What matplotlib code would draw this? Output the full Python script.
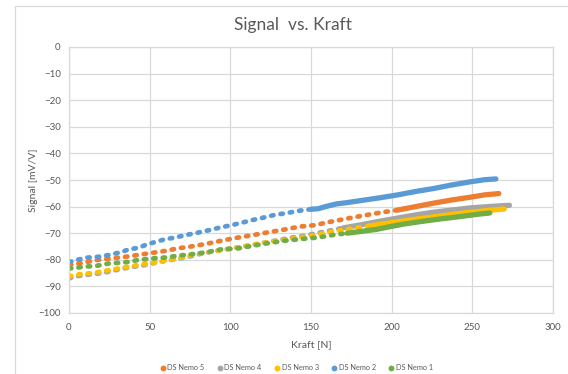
import matplotlib
matplotlib.use("Agg")
import matplotlib.pyplot as plt
from matplotlib.lines import Line2D
from matplotlib.patches import Rectangle
import numpy as np

plt.rcParams["font.family"] = ["Lato", "DejaVu Sans"]

TEXT = "#595959"
GRID = "#D9D9D9"

# readings per sensor: force [N] and signal [mV/V]
nemo5_x = [0, 9, 16.8, 24.6, 34.7, 42.5, 51.5, 60.4, 67.2, 74.6, 80.6, 88.4, 96.3, 105.2, 114.2,
           123, 132, 143.3, 152.2, 161.2, 172.4, 181.3, 192.5, 203.7, 214.9, 226, 237.3, 248.5, 257.5, 266.4]
nemo5_y = [-82, -81.1, -80.1, -79.6, -78.9, -78.2, -77.4, -76.6, -75.7, -75.1, -74.5, -73.6, -72.6, -71.6, -70.7,
           -69.7, -68.8, -67.5, -67, -65.8, -64.5, -63.5, -62.3, -61.3, -60, -58.7, -57.5, -56.5, -55.6, -55.1]

nemo4_x = [0, 4.5, 11, 17.9, 24.6, 33.6, 40.3, 47, 56, 65, 74, 82.8, 91.8, 100.7, 109.7,
           118.7, 127.6, 136.6, 147.8, 159, 170, 181.3, 192.5, 203.7, 215, 226, 237.3, 248.5, 259.7, 273]
nemo4_y = [-87, -86.2, -85.7, -85.2, -84.5, -83.3, -82.6, -82, -80.8, -79.9, -78.9, -77.6, -76.6, -75.7, -74.8,
           -73.8, -72.8, -71.8, -70.7, -69.3, -68, -66.8, -65.5, -64.3, -63.1, -62.1, -61.3, -60.5, -60, -59.5]

nemo3_x = [0, 6.7, 15.7, 24.6, 33.6, 42.5, 49, 58.2, 67.2, 76, 85, 94, 103, 112, 121,
           130, 141, 152, 163.4, 174.6, 185.8, 197, 208.2, 219.4, 230.6, 241.8, 253, 262, 269.8]
nemo3_y = [-86.2, -85.4, -84.9, -83.9, -82.9, -82, -81.4, -80.5, -79.5, -78.2, -77.2, -76.4, -75.5, -74.6, -73.6,
           -72.8, -71.8, -70.8, -69.4, -68.3, -67.3, -66.3, -65.3, -64.4, -63.5, -62.6, -61.9, -61.3, -60.9]

nemo2_x = [0, 2.2, 4.5, 10.7, 16, 19, 24.6, 32.5, 37, 41, 45.9, 48.8, 54.8, 59.3, 66, 71.6, 80.6, 87.3,
           94, 100.7, 107.5, 114, 118.7, 127.6, 134.3, 143.3, 150, 154.5, 159, 165.7, 172.4, 181.3,
           192.5, 203.7, 215, 226, 237, 248.5, 257.5, 264.6]
nemo2_y = [-80.8, -80.5, -80.1, -79.2, -79, -78.8, -78.2, -77.1, -76.1, -75.7, -74.8, -74.1, -73.1, -72.3,
           -71.6, -70.8, -69.7, -68.8, -67.8, -67, -66, -65, -64.4, -63.1, -62.5, -61.5, -61, -60.8, -60,
           -59, -58.5, -57.7, -56.7, -55.6, -54.3, -53.2, -51.9, -50.7, -49.9, -49.6]

nemo1_x = [0, 4.5, 9, 16.8, 24.6, 31.3, 37, 42.5, 51.5, 60.4, 68.3, 76, 85, 94, 105, 114,
           123, 134, 145.5, 154.5, 163.4, 172.4, 181.3, 190.3, 199.3, 208.2, 219.4, 230.6, 241.8, 253, 260.8]
nemo1_y = [-83.3, -83, -82.6, -82.3, -81.4, -81.1, -80.8, -80.1, -79.5, -79.1, -78.4, -77.9, -77.2, -76.1,
           -75.7, -74.7, -73.8, -72.8, -72.1, -71.6, -70.7, -70, -69.3, -68.6, -67.5, -66.5, -65.5, -64.6,
           -63.8, -62.9, -62.4]

# drawn in this order so DS Nemo 1 ends up on top; last value is where the dots run together
series = [
    ("DS Nemo 5", nemo5_x, nemo5_y, "#ED7D31", 195),
    ("DS Nemo 4", nemo4_x, nemo4_y, "#A5A5A5", 160),
    ("DS Nemo 3", nemo3_x, nemo3_y, "#FFC000", 175),
    ("DS Nemo 2", nemo2_x, nemo2_y, "#5B9BD5", 150),
    ("DS Nemo 1", nemo1_x, nemo1_y, "#70AD47", 170),
]

fig = plt.figure(figsize=(5.68, 3.74), dpi=100)
fig.patch.set_facecolor("white")
fig.add_artist(Rectangle((15 / 568, -0.1), 1.2, 1.1 - 6 / 374, transform=fig.transFigure,
                         facecolor="none", edgecolor=GRID, lw=0.9))

ax = fig.add_axes([69 / 568, 1 - 313 / 374, (553 - 69) / 568, (313 - 47) / 374])
ax.set_xlim(0, 300)
ax.set_ylim(-100, 0)
ax.set_xticks(np.arange(0, 301, 50))
ax.set_yticks(np.arange(-100, 1, 10))
ax.grid(True, color=GRID, lw=0.9)
ax.set_axisbelow(True)
for s in ax.spines.values():
    s.set_color(GRID)
    s.set_linewidth(0.9)
ax.tick_params(length=0, labelsize=7, labelcolor=TEXT)
ax.tick_params(axis="y", pad=6)
ax.tick_params(axis="x", pad=7)

handles = []
for name, xs, ys, col, split in series:
    xs = np.array(xs)
    ys = np.array(ys)
    k = int(np.searchsorted(xs, split))
    # loose dots at low force, a continuous band where the readings crowd together
    ax.plot(xs[:k + 1], ys[:k + 1], color=col, lw=3.4, linestyle=(0, (0.5, 1.5)),
            dash_capstyle="round")
    ax.plot(xs[k:], ys[k:], color=col, lw=3.8, solid_capstyle="round")
    handles.append(Line2D([], [], marker="o", ls="none", ms=3.2, color=col, label=name))

fig.text(293 / 568, 1 - 25 / 374, "Signal  vs. Kraft", ha="center", va="center",
         fontsize=12.5, color=TEXT)
fig.text(34 / 568, 1 - 180 / 374, "Signal [mV/V]", rotation=90, ha="center", va="center",
         fontsize=7.5, color=TEXT)
fig.text(311 / 568, 1 - 345 / 374, "Kraft [N]", ha="center", va="center",
         fontsize=7.5, color=TEXT)

leg = fig.legend(handles=handles, loc="center", bbox_to_anchor=(296 / 568, 1 - 368 / 374),
                 ncol=5, frameon=False, fontsize=5.3, handletextpad=0.1, columnspacing=1.6,
                 handlelength=1.0, borderaxespad=0)
for t in leg.get_texts():
    t.set_color(TEXT)

fig.savefig("out.png", dpi=100)
